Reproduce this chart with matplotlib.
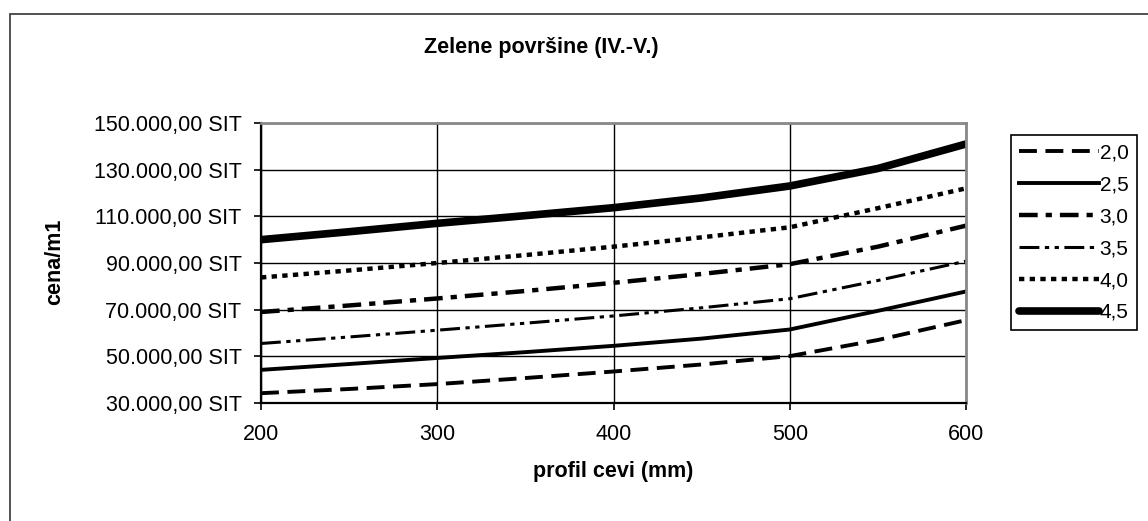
import matplotlib
matplotlib.use('Agg')
import matplotlib.pyplot as plt
from matplotlib.ticker import FuncFormatter
from matplotlib.patches import Rectangle

plt.rcParams['font.family'] = ['Liberation Sans', 'DejaVu Sans']

# profil cevi (mm)
profil = [200, 250, 300, 350, 400, 450, 500, 550, 600]

# cena/m1 for each series
s_20 = [34200, 36000, 38100, 40700, 43500, 46500, 50100, 57000, 65500]
s_25 = [44200, 46700, 49300, 51800, 54500, 57600, 61500, 69500, 77800]
s_30 = [69000, 71800, 74800, 78000, 81500, 85300, 89500, 97000, 106000]
s_35 = [55500, 58300, 61200, 64200, 67300, 70800, 74700, 82500, 90800]
s_40 = [83800, 86800, 90000, 93400, 97000, 101000, 105300, 113500, 122000]
s_45 = [100000, 103400, 107000, 110300, 113700, 117900, 123000, 130500, 141000]

labels = ['2,0', '2,5', '3,0', '3,5', '4,0', '4,5']
x_ticks = [200, 300, 400, 500, 600]
y_ticks = [30000, 50000, 70000, 90000, 110000, 130000, 150000]

W, H = 1148, 521
fig = plt.figure(figsize=(W / 100, H / 100), dpi=100)
ax = fig.add_axes([261 / W, 1 - 403 / H, (966 - 261) / W, (403 - 123) / H])

# outer chart border (right/bottom run off the picture)
fig.patches.append(Rectangle((10 / W, -0.1), 1.2, 1 - 14 / H + 0.1,
                             transform=fig.transFigure, fill=False,
                             edgecolor='#333333', linewidth=1.2))

ax.plot(profil, s_20, color='black', lw=2.8, ls=(0, (4.6, 2.2)), label=labels[0])
ax.plot(profil, s_25, color='black', lw=2.8, ls='-', label=labels[1])
ax.plot(profil, s_30, color='black', lw=3.2, ls=(0, (4.2, 1.8, 1.4, 1.8)), label=labels[2])
ax.plot(profil, s_35, color='black', lw=2.2, ls=(0, (6.5, 1.8, 1.4, 1.8, 1.4, 1.8)), label=labels[3])
ax.plot(profil, s_40, color='black', lw=3.2, ls=(0, (1.2, 1.2)), label=labels[4])
ax.plot(profil, s_45, color='black', lw=5.5, ls='-', solid_capstyle='round', label=labels[5])

ax.set_xlim(200, 600)
ax.set_ylim(30000, 150000)
ax.set_xticks(x_ticks)
ax.set_yticks(y_ticks)
ax.yaxis.set_major_formatter(FuncFormatter(
    lambda v, p: '{:,.2f}'.format(v).replace(',', ' ').replace('.', ',').replace(' ', '.') + ' SIT'))
ax.grid(True, color='black', linewidth=1.0)
ax.set_axisbelow(True)
ax.tick_params(axis='both', direction='out', length=5, width=1.2, labelsize=15.5, colors='black')
ax.tick_params(axis='y', pad=9)
ax.tick_params(axis='x', pad=10)
for side in ['left', 'bottom']:
    ax.spines[side].set_color('black')
    ax.spines[side].set_linewidth(1.6)
for side in ['top', 'right']:
    ax.spines[side].set_color('#888888')
    ax.spines[side].set_linewidth(2.0)

fig.text(541 / W, 1 - 48 / H, 'Zelene površine (IV.-V.)', ha='center', va='center',
         fontsize=15.5, fontweight='bold')
fig.text(613 / W, 1 - 472 / H, 'profil cevi (mm)', ha='center', va='center',
         fontsize=15.5, fontweight='bold')
fig.text(55 / W, 1 - 262 / H, 'cena/m1', ha='center', va='center', rotation=90,
         fontsize=15.5, fontweight='bold')

leg = ax.legend(loc='upper left', bbox_to_anchor=(1011 / W, 1 - 135 / H),
                bbox_transform=fig.transFigure, fontsize=15, handlelength=3.8,
                handletextpad=0.05, labelspacing=0.62, borderpad=0.4,
                borderaxespad=0, fancybox=False, framealpha=1)
leg.get_frame().set_edgecolor('black')
leg.get_frame().set_linewidth(1.2)

fig.savefig('out.png', dpi=100)
